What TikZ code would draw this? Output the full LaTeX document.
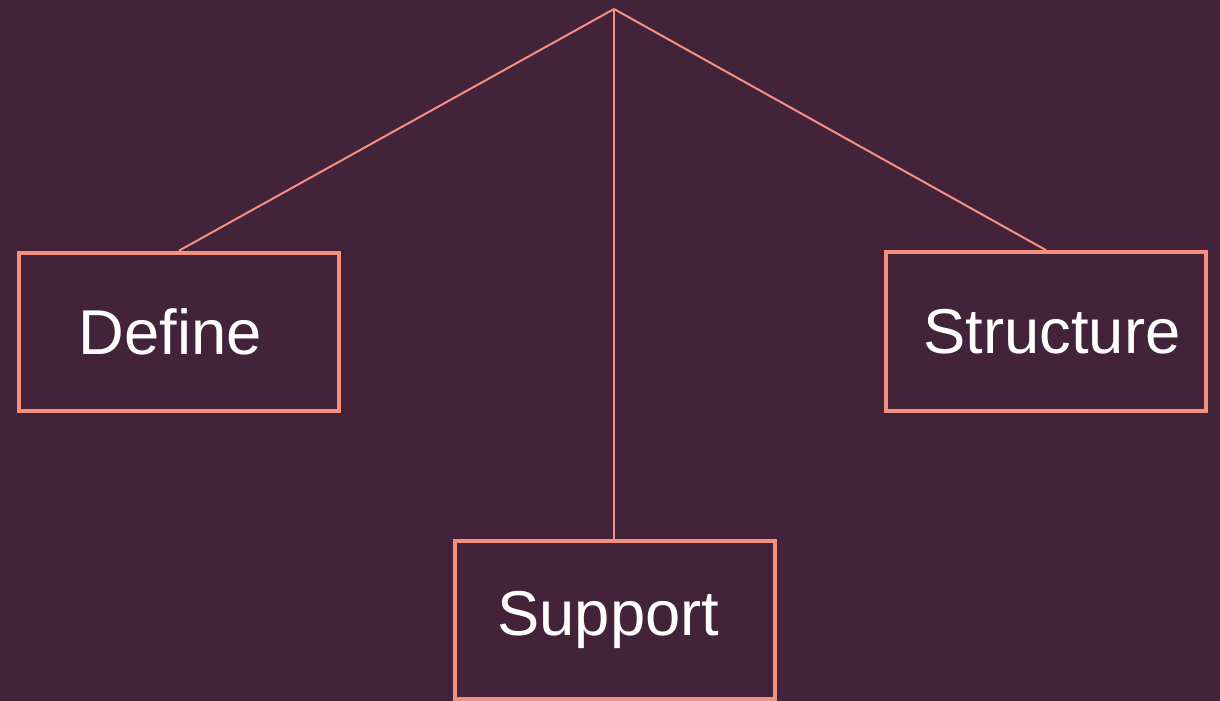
\documentclass[tikz,border=0pt]{standalone}
\usepackage{fontspec}
\setmainfont{Liberation Sans}
\definecolor{plum}{HTML}{42233A}
\definecolor{coral}{HTML}{F5907F}
\tikzset{
	box/.style={draw=coral, line width=3pt, inner sep=0pt, minimum width=240pt, minimum height=119pt, text=white, font=\fontsize{47.5}{56}\selectfont},
	branch/.style={coral, line width=1.5pt}
}
\begin{document}
\begin{tikzpicture}[x=0.75pt, y=-0.75pt]
	\useasboundingbox (0, 0) rectangle (1220, 700);
	\fill[plum] (-10, -10) rectangle (1230, 710);
	\coordinate (top) at (614, 9);
	\node (define) at (179, 332) [box] {Define\kern13pt};
	\node (structure) at (1046, 331.5) [box] {\kern9pt Structure};
	\node (support) at (615, 620) [box] {Support\kern10pt};

	\draw[branch] (top) -- (define.north);
	\draw[branch] (top) -- (structure.north);
	\draw[branch] (top) -- (support.north -| top);
\end{tikzpicture}
\end{document}
